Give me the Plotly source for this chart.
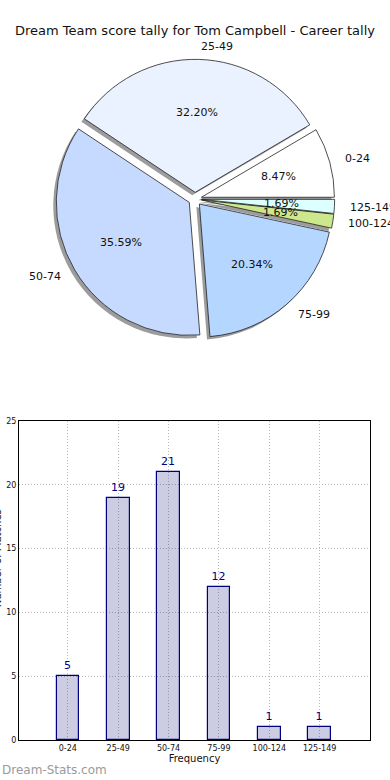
import math
import plotly.graph_objects as go

# ---- data ----
categories = ["0-24", "25-49", "50-74", "75-99", "100-124", "125-149"]
counts = [5, 19, 21, 12, 1, 1]
slice_colors = ["#ffffff", "#eaf1ff", "#c6d9ff", "#b5d6ff", "#cde88c", "#dcffff"]
title_text = "Dream Team score tally for Tom Campbell - Career tally"
bar_xlabel = "Frequency"
bar_ylabel = "Number of Matches"
y_ticks = [0, 5, 10, 15, 20, 25]
watermark = "Dream-Stats.com"

# ---- geometry (page pixels) ----
W, H = 390, 780
ML, MR, MT, MB = 19, 20, 0, 40
PW, PH = W - ML - MR, H - MT - MB
pull = 0.05
pie_r = 133.0
pie_cx_px, pie_cy_px = 195, 199
dom_h = 2 * pie_r * (1 + pull)
pie_cy = (PH - pie_cy_px) / PH
pie_cx = (pie_cx_px - ML) / PW
pie_dom_x = [pie_cx - 0.46, pie_cx + 0.46]
pie_dom_y = [pie_cy - dom_h / 2 / PH, pie_cy + dom_h / 2 / PH]

total = sum(counts)
# plotly puts the first slice clockwise of the start line; rotate so it sits
# counter-clockwise from 3 o'clock like the reference
rotation = 90 - 360 * counts[0] / total

font_family = "DejaVu Sans"

fig = go.Figure()

# shadow
sh_dx, sh_dy = -3 / PW, -3 / PH
fig.add_trace(go.Pie(
    labels=categories, values=counts, sort=False, direction="counterclockwise",
    rotation=rotation, pull=[pull] * len(counts),
    marker=dict(colors=["rgba(90,90,90,0.6)"] * len(counts), line=dict(width=0)),
    textinfo="none", hoverinfo="skip", showlegend=False,
    domain=dict(x=[pie_dom_x[0] + sh_dx, pie_dom_x[1] + sh_dx],
                y=[pie_dom_y[0] + sh_dy, pie_dom_y[1] + sh_dy]),
))
# pie
fig.add_trace(go.Pie(
    labels=categories, values=counts, sort=False, direction="counterclockwise",
    rotation=rotation, pull=[pull] * len(counts),
    marker=dict(colors=slice_colors, line=dict(color="#222222", width=0.8)),
    textinfo="none", showlegend=False,
    domain=dict(x=pie_dom_x, y=pie_dom_y),
))

# pie text labels computed from values
cum = 0
annotations = []
for lab, v in zip(categories, counts):
    theta = 2 * math.pi * (cum + v / 2) / total
    cum += v
    ox, oy = pull * pie_r * math.cos(theta), pull * pie_r * math.sin(theta)
    px_ = ox + 0.6 * pie_r * math.cos(theta)
    py_ = oy + 0.6 * pie_r * math.sin(theta)
    annotations.append(dict(
        x=pie_cx + px_ / PW, y=pie_cy + py_ / PH, xref="paper", yref="paper",
        text=f"{100 * v / total:.2f}%", showarrow=False,
        font=dict(size=11, color="#111111", family=font_family),
        xanchor="center", yanchor="middle"))
    lx = ox + 1.1 * pie_r * math.cos(theta)
    ly = oy + 1.1 * pie_r * math.sin(theta)
    annotations.append(dict(
        x=pie_cx + lx / PW, y=pie_cy + ly / PH, xref="paper", yref="paper",
        text=lab, showarrow=False,
        font=dict(size=11, color="#111111", family=font_family),
        xanchor="left" if lx > 0 else "right", yanchor="middle"))

# bar chart
fig.add_trace(go.Bar(
    x=list(range(len(categories))), y=counts, width=0.45,
    marker=dict(color="rgba(0,0,110,0.2)", line=dict(color="#000080", width=1.2)),
    text=[str(c) for c in counts], textposition="outside", cliponaxis=False,
    textfont=dict(color="#000080", size=11, family=font_family),
    showlegend=False, xaxis="x", yaxis="y",
))

annotations.append(dict(
    x=-ML / PW, y=-(770 - PH) / PH, xref="paper", yref="paper", text=watermark,
    showarrow=False, xanchor="left", yanchor="middle",
    font=dict(size=12, color="#9a9a9a", family=font_family)))

bar_top = (PH - 421) / PH

# y-axis title: sits mostly beyond the left page edge, as in the reference
annotations.append(dict(
    x=-(ML + 3) / PW, y=bar_top / 2 + 0.03, xref="paper", yref="paper",
    text=bar_ylabel, textangle=-90, showarrow=False,
    xanchor="center", yanchor="middle",
    font=dict(size=10, color="#111111", family=font_family)))

fig.update_layout(
    width=W, height=H,
    margin=dict(l=ML, r=MR, t=MT, b=MB, autoexpand=False),
    paper_bgcolor="white", plot_bgcolor="white",
    font=dict(family=font_family, color="#111111"),
    title=dict(text=title_text, x=0.5, xref="container", xanchor="center",
               y=1 - 30 / H, yanchor="middle",
               font=dict(size=13, family=font_family, color="#111111")),
    annotations=annotations,
    bargap=0,
    xaxis=dict(
        domain=[0, 1], range=[-0.97, 6.0], automargin=False,
        tickmode="array", tickvals=list(range(len(categories))), ticktext=categories,
        tickfont=dict(size=8), showgrid=True, gridcolor="#b8b8b8", griddash="1px,2px",
        showline=True, linecolor="black", linewidth=1, mirror=True, zeroline=False,
        ticks="", title=dict(text=bar_xlabel, font=dict(size=10), standoff=2),
    ),
    yaxis=dict(
        domain=[0, bar_top], range=[0, 25], tickvals=y_ticks, automargin=False,
        tickfont=dict(size=8), showgrid=True, gridcolor="#b8b8b8", griddash="1px,2px",
        showline=True, linecolor="black", linewidth=1, mirror=True, zeroline=False,
        ticks="",
    ),
)

fig.write_html(
    "out.html",
    config={"displayModeBar": False},
    post_script="document.body.style.margin='0';document.body.style.overflow='hidden';",
)
